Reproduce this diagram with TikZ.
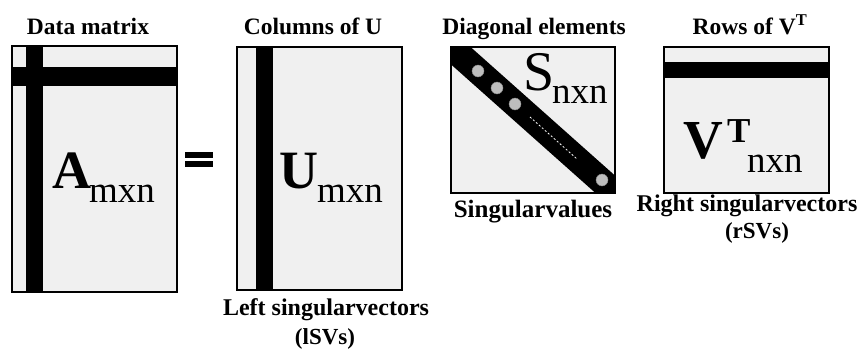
\documentclass[tikz,border=0pt]{standalone}
\usepackage{fontspec}
\usetikzlibrary{calc}
\setmainfont{Liberation Serif}
\definecolor{boxgray}{HTML}{F0F0F0}
\definecolor{dotgray}{HTML}{BDBDBD}
\tikzset{
  mbox/.style={fill=boxgray, inner sep=0, outer sep=0, anchor=north west},
  mborder/.style={draw=black, line width=2pt},
  bar/.style={fill=black},
  ttl/.style={inner sep=0, anchor=base, font=\fontsize{23.5}{23.5}\selectfont\bfseries},
  lbl/.style={inner sep=0, anchor=base, font=\fontsize{24}{24}\selectfont\bfseries},
  big/.style={inner sep=0, anchor=base west, font=\fontsize{54}{54}\selectfont\bfseries},
  sub/.style={inner sep=0, anchor=base west, font=\fontsize{37}{37}\selectfont},
  sv/.style={circle, fill=dotgray, draw=dotgray!70!black, line width=0.4pt, minimum size=12pt, inner sep=0},
}
\begin{document}
\begin{tikzpicture}[x=1pt,y=-1pt]
\useasboundingbox[fill=white] (0,0) rectangle (861,350);

% ---- A ----
\node[mbox, minimum width=165pt, minimum height=246pt] (A) at (12,46) {};
\fill[bar] (26,46) rectangle (43,292);
\fill[bar] (12,67) rectangle (177,86);
\draw[mborder] (A.north west) rectangle (A.south east);
\node[big] (Al) at (52,188) {A};
\node[sub] (Asub) at (89,202) {mxn};
\node[ttl] (At) at (88,35) {Data matrix};

% ---- equals ----
\fill[bar] (185,152) rectangle (213,158);
\fill[bar] (185,161) rectangle (213,167);

% ---- U ----
\node[mbox, minimum width=165pt, minimum height=243pt] (U) at (237,47) {};
\fill[bar] (256,47) rectangle (273,290);
\draw[mborder] (U.north west) rectangle (U.south east);
\node[big] (Ul) at (279,188) {U};
\node[sub] (Usub) at (317,202) {mxn};
\node[ttl] (Ut) at (313,35) {Columns of U};
\node[lbl] (Ub1) at (326,315) {Left singularvectors};
\node[lbl, font=\fontsize{23}{23}\selectfont\bfseries] (Ub2) at (325,344) {(lSVs)};

% ---- S ----
\node[mbox, minimum width=164pt, minimum height=146pt] (S) at (451,47) {};
\begin{scope}
  \clip (S.north west) rectangle (S.south east);
  \draw[line width=26pt] ($(S.north west)!-0.2!(S.south east)$) -- ($(S.north west)!1.2!(S.south east)$);
\end{scope}
\node[sv] (d1) at (478,71) {};
\node[sv] (d2) at (497,88) {};
\node[sv] (d3) at (515,104) {};
\node[sv] (d4) at (602,180) {};
\draw[white, line width=0.8pt, dash pattern=on 2pt off 2pt] (530,117) -- (577,159);
\draw[mborder] (S.north west) rectangle (S.south east);
\node[inner sep=0, anchor=base west, font=\fontsize{56}{56}\selectfont] (Sl) at (523,91) {S};
\node[sub] (Ssub) at (552,103) {nxn};
\node[ttl] (St) at (534,35) {Diagonal elements};
\node[lbl, font=\fontsize{25}{25}\selectfont\bfseries] (Sb) at (533,217) {Singularvalues};

% ---- V ----
\node[mbox, minimum width=165pt, minimum height=146pt] (V) at (664,47) {};
\fill[bar] (664,62) rectangle (829,78);
\draw[mborder] (V.north west) rectangle (V.south east);
\node[big, font=\fontsize{55}{55}\selectfont\bfseries] (Vl) at (683,158) {V};
\node[inner sep=0, anchor=base west, font=\fontsize{35}{35}\selectfont\bfseries] (VT) at (727,142) {T};
\node[sub] (Vsub) at (747,172) {nxn};
\node[ttl] (Vt) at (750,35) {Rows of V\textsuperscript{T}};
\node[lbl] (Vb1) at (747,211) {Right singularvectors};
\node[lbl, font=\fontsize{23}{23}\selectfont\bfseries] (Vb2) at (757,238) {(rSVs)};
\end{tikzpicture}
\end{document}
